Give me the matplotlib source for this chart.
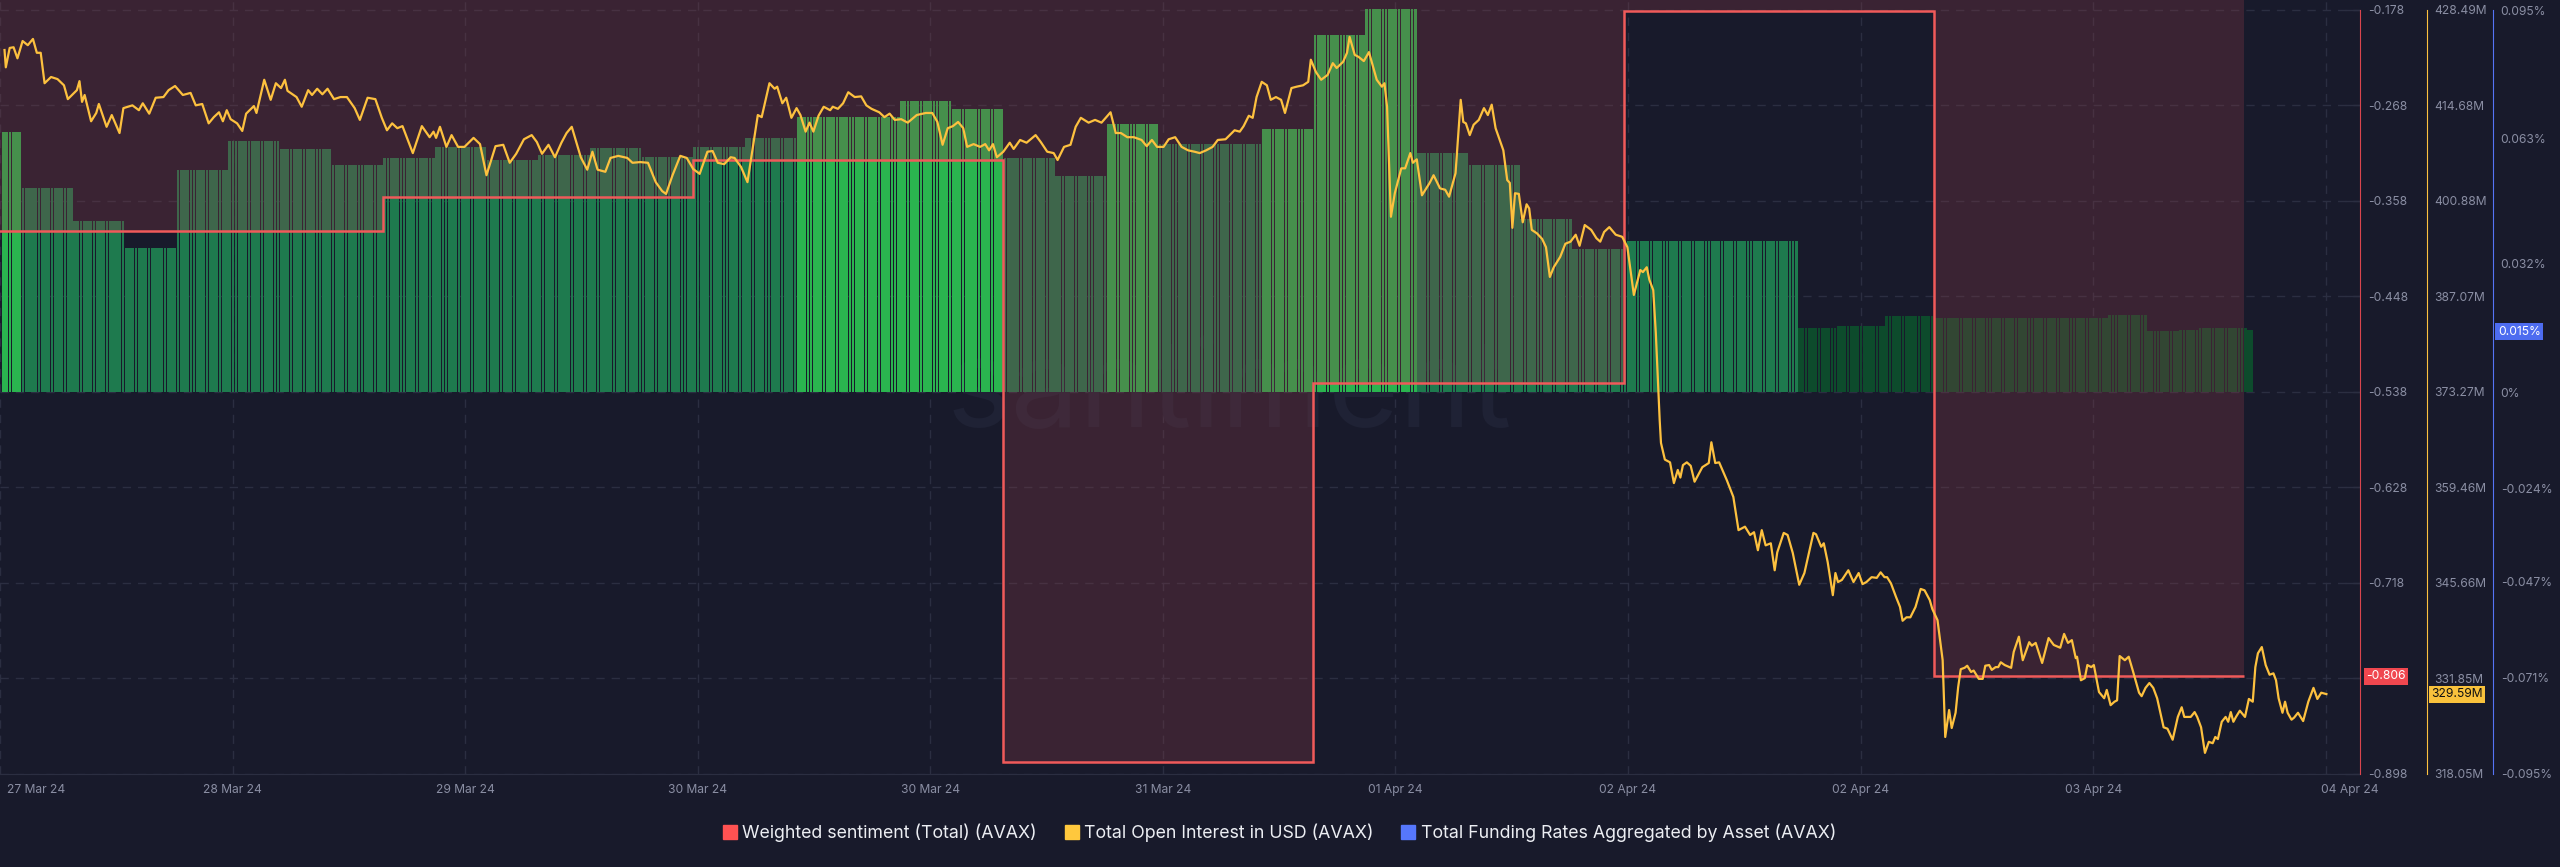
import matplotlib
matplotlib.use("Agg")
import matplotlib.pyplot as plt
import matplotlib.transforms as mtransforms
from matplotlib.lines import Line2D
import numpy as np

plt.rcParams['font.family'] = ['Inter', 'DejaVu Sans']

# time axis: hours, 0 = a day boundary of the sentiment series
x_range = (-5.65, 177.0)
tick_hours = [-5.65, 12.35, 30.35, 48.35, 66.35, 84.35, 102.35, 120.35, 138.35, 156.35, 174.35]
tick_labels = ['27 Mar 24', '28 Mar 24', '29 Mar 24', '30 Mar 24', '30 Mar 24', '31 Mar 24',
               '01 Apr 24', '02 Apr 24', '02 Apr 24', '03 Apr 24', '04 Apr 24']

# weighted sentiment, daily steps
sent_edges = [-24, 0, 24, 48, 72, 96, 120, 144, 168]
sent_values = [-0.386, -0.386, -0.354, -0.319, -0.887, -0.530, -0.179, -0.806]
sent_ticks = [-0.178, -0.268, -0.358, -0.448, -0.538, -0.628, -0.718, -0.808, -0.898]
sent_lim = (-0.898, -0.1686)

# funding rate (%) periods: start hour and value
fund_start = [-5.5, -4, 0, 4, 8, 12, 16, 20, 24, 28, 32, 36, 40, 44, 48, 52, 56, 60, 64, 68,
              72, 76, 80, 84, 88, 92, 96, 100, 104, 108, 112, 116, 120, 133.5, 136.5, 140.25,
              144, 157.5, 160.5, 163, 164.5, 168.25]
fund_end = 168.75
fund_values = [0.0647, 0.0507, 0.0425, 0.0358, 0.0552, 0.0624, 0.0604, 0.0565, 0.0582, 0.0609,
               0.0577, 0.0589, 0.0607, 0.0585, 0.0609, 0.0632, 0.0684, 0.0684, 0.0724, 0.0704,
               0.0582, 0.0537, 0.0667, 0.0617, 0.0617, 0.0654, 0.0888, 0.0952, 0.0594, 0.0565,
               0.0430, 0.0356, 0.0376, 0.0159, 0.0164, 0.0189, 0.0184, 0.0191, 0.0152, 0.0154,
               0.0159, 0.0154]
fund_ticks = [0.095, 0.063, 0.032, 0.0, -0.024, -0.047, -0.071, -0.095]
fund_lim = (-0.095, 0.0975)

# open interest (M USD): (hour, value)
open_interest = [
    (-5.3, 422.7), (-5.2, 420.2), (-4.9, 423.0), (-4.6, 423.1), (-4.3, 421.5), (-3.9, 424.0),
    (-3.5, 423.4), (-3.1, 424.3), (-2.8, 422.3), (-2.5, 422.3), (-2.2, 417.9), (-1.7, 418.8),
    (-1.2, 418.5), (-0.7, 417.6), (-0.4, 415.6), (0.3, 416.9), (0.5, 418.2), (0.7, 415.2),
    (0.9, 416.2), (1.4, 412.4), (1.8, 413.6), (2.0, 414.9), (2.6, 411.6), (3.0, 413.3),
    (3.6, 410.7), (3.9, 414.3), (4.6, 414.7), (5.1, 414.0), (5.4, 415.0), (5.9, 413.5),
    (6.4, 415.8), (7.0, 415.9), (7.4, 416.9), (7.9, 417.5), (8.5, 416.2), (9.1, 416.5),
    (9.5, 414.7), (10.0, 414.9), (10.5, 412.1), (10.9, 413.0), (11.3, 413.7), (11.6, 412.4),
    (11.9, 414.0), (12.2, 412.7), (12.7, 412.1), (13.1, 411.0), (13.4, 413.5), (14.0, 414.6),
    (14.2, 413.6), (14.8, 418.4), (15.3, 415.5), (15.7, 417.9), (16.1, 417.2), (16.4, 418.4),
    (16.6, 416.8), (17.3, 415.9), (17.7, 414.5), (18.2, 416.9), (18.5, 416.2), (18.9, 417.1),
    (19.3, 416.3), (19.7, 417.1), (20.2, 415.6), (20.7, 415.9), (21.2, 415.9), (21.8, 414.3),
    (22.2, 412.6), (22.8, 415.8), (23.4, 415.6), (23.9, 412.9), (24.3, 411.1), (24.7, 412.1),
    (25.1, 411.4), (25.5, 411.7), (26.3, 407.8), (27.0, 411.7), (27.6, 410.1), (27.9, 410.9),
    (28.1, 410.0), (28.4, 411.6), (28.9, 408.7), (29.3, 410.4), (29.8, 408.7), (30.3, 408.7),
    (31.0, 410.0), (31.5, 409.1), (32.0, 404.6), (32.7, 408.8), (33.3, 409.0), (33.8, 406.4),
    (34.3, 407.7), (34.9, 409.8), (35.5, 410.4), (35.9, 409.4), (36.3, 407.7), (36.8, 409.0),
    (37.3, 407.2), (37.8, 409.3), (38.2, 410.7), (38.6, 411.6), (39.3, 407.2), (39.8, 405.4),
    (40.2, 408.0), (40.6, 405.4), (41.2, 405.1), (41.6, 407.1), (42.2, 407.4), (42.9, 407.1),
    (43.3, 406.4), (43.9, 406.5), (44.5, 406.4), (45.1, 403.6), (45.6, 402.3), (45.9, 401.9),
    (46.4, 404.6), (47.0, 407.4), (47.5, 407.1), (48.0, 405.5), (48.5, 404.8), (49.1, 408.0),
    (49.5, 408.1), (49.9, 406.4), (50.4, 406.2), (50.9, 407.2), (51.2, 407.1), (51.7, 405.8),
    (52.2, 403.6), (53.0, 413.3), (53.3, 413.0), (53.9, 417.9), (54.3, 417.1), (54.5, 417.4),
    (54.9, 415.0), (55.2, 415.8), (55.6, 412.9), (56.0, 414.3), (56.3, 413.3), (56.7, 410.9),
    (57.0, 412.2), (57.3, 410.9), (57.7, 413.2), (58.1, 414.5), (58.6, 414.0), (58.8, 414.5),
    (59.2, 414.2), (59.6, 415.0), (60.0, 416.6), (60.5, 415.9), (61.0, 416.0), (61.4, 414.7),
    (61.8, 414.2), (62.4, 413.7), (62.8, 413.0), (63.2, 413.5), (63.6, 412.6), (64.1, 412.7),
    (64.6, 412.2), (65.3, 413.3), (66.0, 413.6), (66.5, 413.6), (66.9, 412.3), (67.3, 409.0),
    (67.7, 411.4), (68.1, 411.7), (68.5, 412.3), (68.9, 411.4), (69.2, 408.7), (69.7, 409.1),
    (70.2, 408.7), (70.6, 409.1), (70.9, 408.2), (71.2, 409.1), (71.5, 407.2), (72.0, 408.0),
    (72.5, 409.3), (72.8, 408.4), (73.3, 409.7), (73.8, 409.3), (74.5, 410.4), (74.9, 409.4),
    (75.4, 408.0), (75.9, 407.8), (76.2, 406.8), (76.7, 408.7), (77.2, 409.0), (77.6, 411.6),
    (78.0, 412.9), (78.6, 412.2), (79.1, 412.6), (79.6, 412.2), (80.3, 413.7), (80.7, 410.7),
    (81.1, 410.7), (81.6, 410.1), (82.1, 410.1), (82.7, 409.7), (83.1, 408.8), (83.5, 409.7),
    (83.9, 408.7), (84.4, 408.7), (84.8, 409.8), (85.3, 410.1), (85.8, 408.7), (86.3, 408.2),
    (86.8, 408.0), (87.2, 407.8), (87.7, 408.2), (88.2, 408.7), (88.6, 409.7), (89.2, 409.8),
    (89.9, 411.1), (90.3, 410.9), (90.6, 411.7), (91.0, 413.2), (91.3, 412.9), (91.6, 415.9),
    (92.0, 418.1), (92.4, 417.6), (92.7, 415.5), (93.1, 415.9), (93.5, 415.5), (93.8, 413.6),
    (94.3, 417.2), (94.7, 417.4), (95.2, 417.6), (95.6, 418.1), (95.8, 421.3), (96.2, 419.5),
    (96.6, 418.4), (97.1, 419.1), (97.5, 420.8), (97.8, 420.1), (98.3, 421.0), (98.6, 422.3),
    (98.8, 424.6), (99.2, 422.0), (99.5, 421.7), (99.9, 421.1), (100.3, 422.4), (100.9, 418.4),
    (101.3, 417.4), (101.5, 417.9), (101.7, 414.5), (102.0, 398.6), (102.3, 402.0), (102.8, 405.6),
    (103.1, 405.6), (103.5, 407.8), (103.7, 406.4), (104.0, 406.9), (104.4, 401.7), (105.0, 403.5),
    (105.3, 404.6), (105.8, 402.7), (106.2, 402.5), (106.5, 401.5), (107.0, 404.9), (107.4, 415.5),
    (107.6, 412.3), (107.8, 412.1), (108.1, 410.4), (108.4, 411.9), (108.8, 412.6), (109.2, 414.3),
    (109.5, 413.3), (109.8, 414.8), (110.1, 411.4), (110.7, 408.2), (111.0, 403.9), (111.2, 403.5),
    (111.4, 397.0), (111.6, 402.0), (111.9, 401.9), (112.2, 397.8), (112.5, 400.4), (112.7, 399.8),
    (112.9, 396.7), (113.3, 396.2), (113.7, 395.4), (114.0, 394.2), (114.3, 389.9), (114.6, 391.3),
    (115.1, 392.8), (115.5, 394.7), (115.9, 395.0), (116.3, 396.0), (116.6, 394.4), (117.0, 397.4),
    (117.5, 396.7), (117.9, 395.5), (118.2, 395.0), (118.5, 396.4), (118.9, 397.1), (119.4, 396.0),
    (119.9, 395.7), (120.3, 394.2), (120.8, 387.3), (121.3, 390.9), (121.5, 390.6), (121.8, 391.3),
    (122.0, 389.5), (122.3, 388.0), (122.5, 381.8), (122.8, 369.2), (122.9, 365.9), (123.2, 363.5),
    (123.6, 363.1), (123.9, 360.1), (124.2, 362.0), (124.4, 360.9), (124.6, 362.7), (124.9, 363.1),
    (125.2, 362.6), (125.5, 360.3), (126.1, 362.4), (126.6, 363.0), (126.8, 366.0), (127.1, 363.0),
    (127.4, 363.1), (128.0, 360.5), (128.5, 358.1), (128.9, 353.3), (129.4, 353.8), (129.8, 352.6),
    (130.1, 353.0), (130.4, 350.4), (130.7, 353.3), (131.0, 351.1), (131.4, 351.4), (131.7, 347.5),
    (131.9, 350.1), (132.4, 352.9), (132.7, 352.6), (133.1, 350.0), (133.6, 345.4), (134.0, 347.1),
    (134.4, 350.4), (134.7, 352.9), (134.9, 352.7), (135.3, 350.9), (135.5, 351.4), (135.8, 348.7),
    (136.2, 343.9), (136.4, 347.1), (136.6, 345.8), (136.9, 346.1), (137.4, 347.5), (137.8, 345.8),
    (138.2, 347.1), (138.5, 345.5), (138.8, 345.8), (139.2, 346.5), (139.6, 346.4), (139.9, 347.2),
    (140.2, 346.5), (140.4, 346.5), (140.7, 345.6), (141.1, 343.6), (141.4, 342.2), (141.6, 340.2),
    (141.9, 340.7), (142.2, 340.7), (142.6, 342.2), (143.0, 344.8), (143.3, 344.6), (143.7, 343.2),
    (143.9, 341.9), (144.3, 340.3), (144.7, 334.5), (144.9, 323.4), (145.2, 327.3), (145.4, 324.7),
    (145.7, 326.9), (145.9, 330.6), (146.1, 333.2), (146.4, 333.4), (146.6, 333.7), (146.9, 332.8),
    (147.1, 333.0), (147.5, 331.8), (147.8, 331.8), (148.0, 333.7), (148.3, 333.8), (148.5, 333.1),
    (148.8, 333.5), (149.0, 333.5), (149.2, 334.2), (149.5, 333.8), (150.0, 333.4), (150.2, 335.7),
    (150.6, 337.9), (150.9, 334.5), (151.4, 337.1), (151.6, 336.6), (151.9, 337.0), (152.4, 334.1),
    (152.9, 337.7), (153.3, 336.7), (153.8, 336.3), (154.1, 338.3), (154.4, 337.0), (154.7, 337.4),
    (155.0, 334.8), (155.1, 335.0), (155.4, 331.6), (155.7, 331.9), (155.9, 333.8), (156.2, 333.5),
    (156.4, 333.8), (156.8, 329.9), (157.2, 329.0), (157.4, 330.2), (157.7, 328.0), (158.0, 328.5),
    (158.2, 328.7), (158.4, 335.1), (158.8, 334.5), (159.1, 335.0), (159.4, 333.1), (159.9, 329.8),
    (160.1, 329.3), (160.4, 330.5), (160.7, 331.2), (161.0, 330.5), (161.3, 329.0), (161.8, 324.8),
    (162.1, 324.6), (162.5, 323.0), (162.9, 326.3), (163.2, 327.7), (163.4, 326.3), (163.7, 326.3),
    (163.9, 326.3), (164.2, 327.0), (164.4, 326.3), (164.7, 324.8), (165.0, 321.1), (165.3, 322.7),
    (165.6, 322.5), (165.8, 323.4), (166.0, 323.1), (166.3, 325.6), (166.6, 326.3), (166.8, 325.6),
    (167.0, 327.0), (167.2, 325.6), (167.4, 326.3), (167.7, 327.2), (168.1, 326.3), (168.4, 328.9),
    (168.7, 328.5), (168.9, 333.5), (169.1, 335.5), (169.4, 336.4), (169.7, 333.8), (170.0, 332.4),
    (170.3, 332.6), (170.5, 331.6), (170.7, 329.0), (171.0, 326.9), (171.2, 328.5), (171.4, 326.9),
    (171.7, 325.9), (171.9, 326.2), (172.2, 326.9), (172.6, 325.7), (173.0, 328.5), (173.4, 330.5),
    (173.7, 328.9), (174.0, 329.8), (174.4, 329.6),
]
oi_ticks = [428.49, 414.68, 400.88, 387.07, 373.27, 359.46, 345.66, 331.85, 318.05]
oi_lim = (318.05, 429.93)
oi_last = 329.59
fund_last = 0.015
sent_last = -0.806

NAVY = '#181a2b'
GRID = '#2b2e41'
LABEL = '#8a8ea3'
RED = '#f05a5a'
YELLOW = '#fdc13f'
BLUE = '#5574f5'

fig = plt.figure(figsize=(25.6, 8.67), dpi=100, facecolor=NAVY)
rect = [0, 1 - 774 / 867, 2360 / 2560, 774 / 867]
ax_fr = fig.add_axes(rect)
ax_fr.set_facecolor(NAVY)
ax_s = ax_fr.twinx()
ax_oi = ax_fr.twinx()

ax_fr.set_xlim(*x_range)
ax_fr.set_ylim(*fund_lim)
ax_s.set_ylim(*sent_lim)
ax_oi.set_ylim(*oi_lim)

# --- funding bars (15 min bars, constant within each period)
bar_t, bar_v = [], []
ends = fund_start[1:] + [fund_end]
for s, e, v in zip(fund_start, ends, fund_values):
    n = int(round((e - s) / 0.25))
    bar_t.extend(s + 0.125 + 0.25 * np.arange(n))
    bar_v.extend([v] * n)
bar_v = np.array(bar_v)
bar_c = np.where(bar_v >= 0.064, '#2ab44f', np.where(bar_v >= 0.03, '#1e7a4e', '#0d4b2c'))
ax_fr.bar(bar_t, bar_v, width=0.21, color=bar_c, linewidth=0, zorder=2)

# grid under the bars
ax_fr.set_xticks(tick_hours)
ax_fr.tick_params(axis='x', length=0, labelbottom=False)
ax_fr.grid(axis='x', color=GRID, linestyle=(0, (6, 5)), linewidth=1)
ax_fr.set_axisbelow(True)
hblend = mtransforms.blended_transform_factory(ax_fr.transAxes, ax_s.transData)
for v in sent_ticks:
    ax_fr.plot([0, 1], [v, v], transform=hblend, color=GRID, lw=1,
               linestyle=(0, (6, 5)), zorder=0.5)

ax_fr.text(0.521, 0.49, 'santiment', transform=ax_fr.transAxes, fontsize=88,
           color='#1f2235', ha='center', va='center', zorder=1)

# --- sentiment: shaded area above the line, then the line
ax_s.stairs(sent_values, sent_edges, baseline=sent_lim[1], fill=True,
            color='#893b46', alpha=0.3, linewidth=0)
ax_s.stairs(sent_values, sent_edges, baseline=None, color=RED, linewidth=1.8)

# --- open interest
oi_hours, oi_values = zip(*open_interest)
ax_oi.plot(oi_hours, oi_values, color=YELLOW, lw=1.6, solid_joinstyle='round')

# --- axes styling
for a in (ax_fr, ax_s, ax_oi):
    for side in ('top', 'left'):
        a.spines[side].set_visible(False)
for a in (ax_s, ax_oi):
    a.spines['bottom'].set_visible(False)
ax_fr.spines['bottom'].set_color(GRID)
ax_fr.spines['right'].set_visible(True)

ax_fr.yaxis.tick_right()
ax_fr.spines['right'].set_position(('axes', 1 + 133 / 2360))
ax_fr.spines['right'].set_color(BLUE)
ax_fr.spines['right'].set_bounds(-0.095, 0.095)
ax_fr.set_yticks(fund_ticks)
ax_fr.set_yticklabels(['0%' if v == 0 else f'{v:g}%' for v in fund_ticks])

ax_oi.spines['right'].set_position(('axes', 1 + 67 / 2360))
ax_oi.spines['right'].set_color(YELLOW)
ax_oi.spines['right'].set_bounds(oi_ticks[-1], oi_ticks[0])
ax_oi.set_yticks(oi_ticks)
ax_oi.set_yticklabels([f'{v:.2f}M' for v in oi_ticks])

ax_s.spines['right'].set_color('#d9454e')
ax_s.spines['right'].set_bounds(sent_ticks[-1], sent_ticks[0])
ax_s.set_yticks(sent_ticks)
ax_s.set_yticklabels([f'{v:.3f}' for v in sent_ticks])

for a in (ax_fr, ax_oi):
    a.tick_params(axis='y', length=0, pad=5.5, labelsize=8.7, labelcolor=LABEL)
ax_s.tick_params(axis='y', direction='in', length=11, width=1, color=GRID,
                 pad=5.5, labelsize=8.7, labelcolor=LABEL)

# x labels (first and last are left aligned like the source)
xblend = mtransforms.blended_transform_factory(ax_fr.transData, ax_fr.transAxes)
for i, (t, lab) in enumerate(zip(tick_hours, tick_labels)):
    if i == 0:
        ha, dx = 'left', 5
    elif i == len(tick_hours) - 1:
        ha, dx = 'left', -3.5
    else:
        ha, dx = 'center', 0
    ax_fr.annotate(lab, xy=(t, 0), xycoords=xblend, xytext=(dx, -11.5),
                   textcoords='offset points', ha=ha, va='center',
                   fontsize=8.7, color=LABEL, annotation_clip=False)

# last-value badges
def badge(ax, xpos, y, text, fc, tc, dx):
    tr = mtransforms.blended_transform_factory(ax.transAxes, ax.transData)
    ax.annotate(text, xy=(xpos, y), xycoords=tr, xytext=(dx, 0),
                textcoords='offset points', ha='left', va='center',
                fontsize=8.7, color=tc, annotation_clip=False, zorder=10,
                bbox=dict(boxstyle='square,pad=0.22', fc=fc, ec='none'))

badge(ax_s, 1.0, sent_last, f'{sent_last:.3f}', '#f0474f', 'white', 4.5)
badge(ax_oi, 1 + 67 / 2360, oi_last, f'{oi_last:.2f}M', '#f9c23c', '#111111', 3)
badge(ax_fr, 1 + 133 / 2360, fund_last, f'{fund_last:.3f}%', '#4d6cf0', 'white', 3.5)

# legend
handles = [Line2D([], [], marker='s', linestyle='none', markersize=9.5, color=c)
           for c in ('#ff5252', '#ffc83d', '#5677fc')]
names = ['Weighted sentiment (Total) (AVAX)', 'Total Open Interest in USD (AVAX)',
         'Total Funding Rates Aggregated by Asset (AVAX)']
fig.legend(handles, names, loc='center', bbox_to_anchor=(0.5, 1 - 833 / 867), ncol=3,
           frameon=False, fontsize=12.8, labelcolor='#eceef3', handlelength=0.7,
           handletextpad=0.35, columnspacing=1.6)

fig.savefig('out.png', dpi=100, facecolor=NAVY)
